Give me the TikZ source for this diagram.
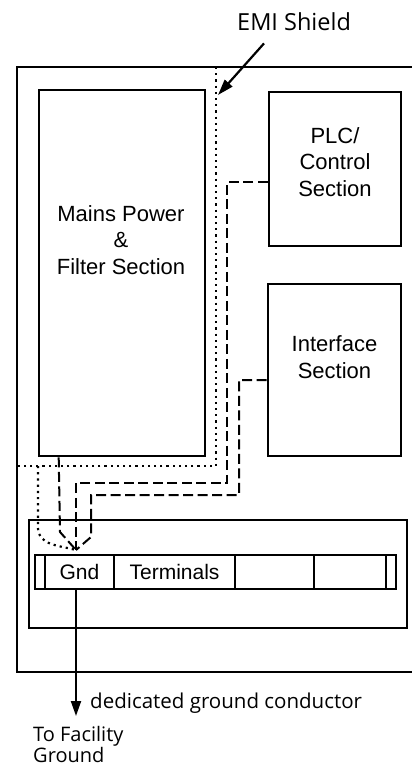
\documentclass[tikz,border=0pt]{standalone}
\usepackage{fontspec}
\setmainfont{Liberation Sans}
\newfontfamily\notefont{Open Sans}
\usepackage{tikz}
\usetikzlibrary{arrows.meta, positioning, calc}

\begin{document}
\begin{tikzpicture}[x=1pt, y=-1pt,
    section/.style={draw, line width=2.6pt, inner sep=0pt},
    boxtext/.style={align=center, inner sep=0pt,
      font=\fontsize{22}{26.5}\selectfont},
    cell/.style={draw, line width=2.2pt, minimum height=34pt,
      inner sep=0pt, outer sep=0pt, font=\fontsize{21}{25}\selectfont},
    wire/.style={line width=2pt, dash pattern=on 10pt off 4.5pt},
    shield/.style={line width=2.2pt, dash pattern=on 2.2pt off 4pt},
    note/.style={inner sep=0pt, align=left,
      font=\notefont\fontsize{20.5}{18.3}\selectfont}]
  \useasboundingbox (0,0) rectangle (412,771);

  % enclosure, open to the right
  \draw[line width=2.6pt] (412,67) -- (17,67) -- (17,672) -- (412,672);

  \node[section, minimum width=166pt, minimum height=366pt] (mains) at (122,273) {};
  \node[boxtext] (mainstext) at (121,240) {Mains Power\\\&\\Filter Section};

  \node[section, minimum width=132pt, minimum height=154pt] (plc) at (335,169) {};
  \node[boxtext] (plctext) at (335,162) {PLC/\\Control\\Section};

  \node[section, minimum width=133pt, minimum height=172pt] (iface) at (334.5,370) {};
  \node[boxtext] (ifacetext) at (334.5,357) {Interface\\Section};

  % terminal block
  \node[section, minimum width=378pt, minimum height=108pt] (termbox) at (218,574) {};
  \node[cell, minimum width=10pt] (capl) at (40,572) {};
  \node[cell, minimum width=69pt, right=0pt of capl] (gnd) {Gnd};
  \node[cell, minimum width=121pt, right=0pt of gnd] (terms) {Terminals};
  \node[cell, minimum width=79pt, right=0pt of terms] (blanka) {};
  \node[cell, minimum width=72pt, right=0pt of blanka] (blankb) {};
  \node[cell, minimum width=10pt, right=0pt of blankb] (capr) {};

  \coordinate (jn) at (76,550);
  \coordinate (shieldtip) at (218,95);
  \coordinate (facility) at (76,716);

  % shield boundary
  \draw[shield] (216,67) -- (216,466) -- (17,466);
  \draw[shield] (38,466) -- (38,528) to[out=-90, in=165] (jn);

  % ground wires
  \draw[wire] ($(mains.south west)+(21,0)$) -- (60,532) -- (jn);
  \draw[wire] ($(plc.west)+(0,13)$) -| (227,483) -| (jn);
  \draw[wire] ($(iface.west)+(0,10)$) -| (239,495) -| (91,537) -- (jn);

  \draw[line width=2pt, -{Triangle[length=15pt, width=10pt]}]
    (jn |- gnd.south) -- (facility);

  \node[note, anchor=base west, font=\notefont\fontsize{23.5}{28}\selectfont]
    (emi) at (237,30) {EMI Shield};
  \draw[line width=2.2pt, -{Triangle[length=16pt, width=10pt]}]
    ($(emi.south west)+(27,13)$) -- (shieldtip);

  \node[note, anchor=base west] (conductor) at (90,708) {dedicated ground conductor};
  \node[note, anchor=north west, font=\notefont\fontsize{20}{18.3}\selectfont]
    (facilitytext) at (33,726) {To Facility\\Ground};
\end{tikzpicture}
\end{document}
